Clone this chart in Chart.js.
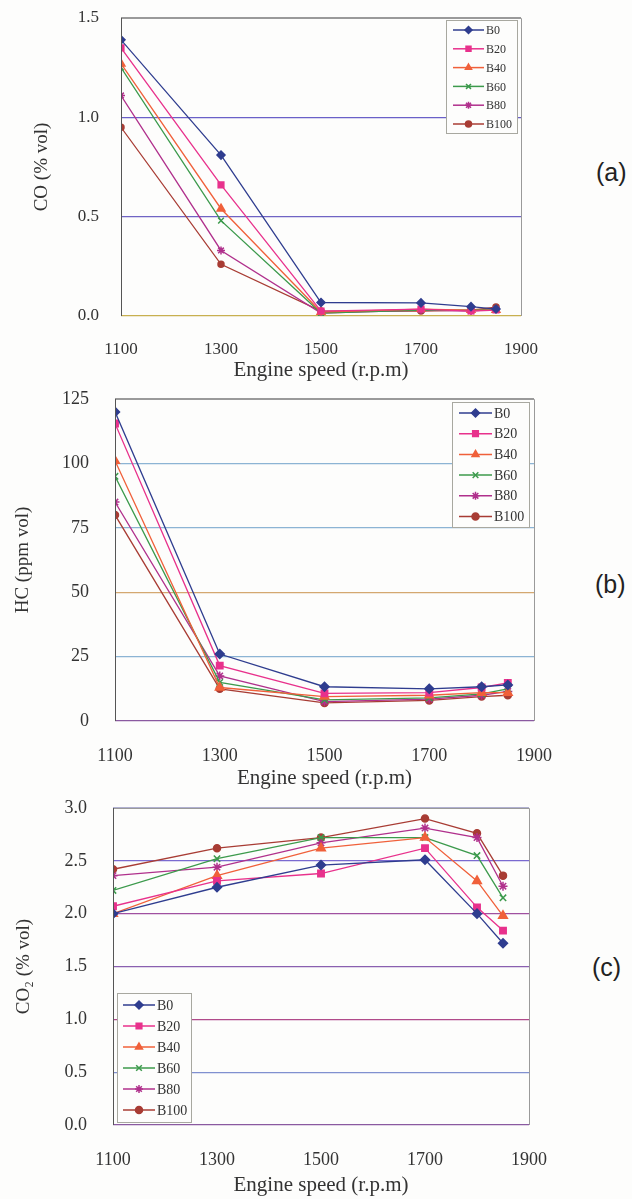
<!DOCTYPE html>
<html>
<head>
<meta charset="utf-8">
<script src="https://cdn.jsdelivr.net/npm/chart.js@4.4.1/dist/chart.umd.min.js"></script>
<style>
  body { margin: 0; background: #fdfdfc; width: 632px; height: 1199px; position: relative; overflow: hidden; }
  .box { position: absolute; left: 0; }
  .tag { position: absolute; font-family: "Liberation Sans", Arial, sans-serif; font-size: 25px; color: #222; }
</style>
</head>
<body>
<div class="box" style="top:0;width:560px;height:390px"><canvas id="chartCO"></canvas></div>
<div class="box" style="top:380px;width:580px;height:420px"><canvas id="chartHC"></canvas></div>
<div class="box" style="top:790px;width:575px;height:409px"><canvas id="chartCO2"></canvas></div>
<div class="tag" style="left:596px;top:158px">(a)</div>
<div class="tag" style="left:595px;top:570px">(b)</div>
<div class="tag" style="left:592px;top:953px">(c)</div>

<script>
// engine speeds (r.p.m)
var speeds = [1100, 1300, 1500, 1700, 1800, 1850];
var blends = ['B0', 'B20', 'B40', 'B60', 'B80', 'B100'];

// CO (% vol)
var coB0 = [1.39, 0.81, 0.068, 0.066, 0.047, 0.035];
var coB20 = [1.35, 0.66, 0.025, 0.035, 0.025, 0.03];
var coB40 = [1.27, 0.54, 0.02, 0.035, 0.03, 0.03];
var coB60 = [1.25, 0.48, 0.015, 0.03, 0.03, 0.035];
var coB80 = [1.11, 0.33, 0.015, 0.03, 0.025, 0.035];
var coB100 = [0.95, 0.26, 0.025, 0.025, 0.03, 0.045];

// HC (ppm vol)
var hcB0 = [120, 26, 13.3, 12.5, 13.3, 14];
var hcB20 = [115.5, 21.5, 10.7, 11, 13, 14.8];
var hcB40 = [101, 13, 9.5, 10, 11, 11];
var hcB60 = [95, 15, 8.2, 9, 10.5, 12.5];
var hcB80 = [85, 17.5, 7.5, 8.5, 10, 11.5];
var hcB100 = [80, 12.5, 7, 8, 9.5, 10];

// CO2 (% vol)
var co2B0 = [2.0, 2.25, 2.46, 2.51, 2.0, 1.72];
var co2B20 = [2.07, 2.31, 2.38, 2.62, 2.06, 1.84];
var co2B40 = [2.0, 2.36, 2.62, 2.72, 2.31, 1.98];
var co2B60 = [2.22, 2.52, 2.72, 2.72, 2.55, 2.15];
var co2B80 = [2.36, 2.44, 2.67, 2.81, 2.72, 2.26];
var co2B100 = [2.42, 2.62, 2.72, 2.9, 2.76, 2.36];

var colors = ['#2f3d8f', '#e8318c', '#f0603a', '#3c9a4c', '#b0308c', '#a83c34'];
var markers = ['rectRot', 'rect', 'triangle', 'crossRot', 'star', 'circle'];
var serif = '"Liberation Serif", "DejaVu Serif", serif';

function makeSets(series, r) {
  return series.map(function(vals, i) {
    return {
      label: blends[i],
      data: vals.map(function(v, j) { return { x: speeds[j], y: v }; }),
      borderColor: colors[i],
      backgroundColor: colors[i],
      borderWidth: 1.3,
      pointStyle: markers[i],
      pointRadius: markers[i] == 'circle' ? r - 1 : (markers[i] == 'triangle' ? r + 0.5 : r),
      pointBorderWidth: 1.5,
      tension: 0
    };
  });
}

// frame round the plot
var framePlugin = {
  id: 'frame',
  afterDraw: function(chart) {
    var a = chart.chartArea, ctx = chart.ctx;
    ctx.save();
    ctx.strokeStyle = '#9a9a9a';
    ctx.lineWidth = 1;
    ctx.beginPath();
    ctx.moveTo(a.left, a.top + 0.5);
    ctx.lineTo(a.right + 0.5, a.top + 0.5);
    ctx.lineTo(a.right + 0.5, a.bottom);
    ctx.stroke();
    ctx.strokeStyle = '#555';
    ctx.beginPath();
    ctx.moveTo(a.left + 0.5, a.top);
    ctx.lineTo(a.left + 0.5, a.bottom);
    ctx.stroke();
    ctx.restore();
  }
};

// boxed legend placed inside the plot
var boxLegend = {
  id: 'boxLegend',
  afterDraw: function(chart, args, o) {
    var ctx = chart.ctx;
    ctx.save();
    ctx.fillStyle = '#fdfdfc';
    ctx.fillRect(o.x, o.y, o.w, o.h);
    ctx.strokeStyle = '#a8a8a0';
    ctx.lineWidth = 1;
    ctx.strokeRect(o.x + 0.5, o.y + 0.5, o.w, o.h);
    chart.data.datasets.forEach(function(ds, i) {
      var cy = o.rowY + i * o.rowH;
      ctx.strokeStyle = ds.borderColor;
      ctx.lineWidth = 1.5;
      ctx.beginPath();
      ctx.moveTo(o.lineX, cy);
      ctx.lineTo(o.lineX + o.lineLen, cy);
      ctx.stroke();
      ctx.fillStyle = ds.backgroundColor;
      Chart.helpers.drawPoint(ctx, {
        pointStyle: ds.pointStyle, radius: ds.pointStyle == 'circle' ? o.r - 0.5 : o.r, rotation: 0, borderWidth: 1.5
      }, o.lineX + o.lineLen / 2, cy);
      ctx.fillStyle = '#333';
      ctx.font = o.size + 'px ' + serif;
      ctx.textBaseline = 'middle';
      ctx.textAlign = 'left';
      ctx.fillText(ds.label, o.lineX + o.lineLen + 2, cy + 1);
    });
    ctx.restore();
  }
};

function gridColor(map) {
  return function(c) {
    var v = c.tick ? c.tick.value : 0;
    var k = v.toFixed(1);
    return map[k] || '#8080c0';
  };
}

function buildChart(id, cfg) {
  return new Chart(document.getElementById(id), {
    type: 'line',
    data: { datasets: makeSets(cfg.series, cfg.r) },
    options: {
      responsive: true,
      maintainAspectRatio: false,
      animation: false,
      layout: { padding: { top: cfg.padTop, right: cfg.padRight, left: 0, bottom: 0 } },
      plugins: {
        legend: { display: false },
        tooltip: { enabled: false },
        boxLegend: cfg.legend
      },
      scales: {
        x: {
          type: 'linear',
          min: 1100, max: 1900,
          afterFit: function(s) { s.height = cfg.xAxisH; },
          afterBuildTicks: function(s) {
            s.ticks = [1100, 1300, 1500, 1700, 1900].map(function(v) { return { value: v }; });
          },
          ticks: {
            padding: cfg.xTickPad,
            color: '#333',
            maxRotation: 0,
            font: { family: serif, size: cfg.tickSize },
            callback: function(v) { return v; }
          },
          grid: { display: false },
          border: { display: false },
          title: {
            display: true,
            text: 'Engine speed (r.p.m)',
            color: '#333',
            font: { family: serif, size: 21 },
            padding: { top: 0, bottom: cfg.xTitlePad }
          }
        },
        y: {
          min: cfg.yMin, max: cfg.yMax,
          afterFit: function(s) { s.width = cfg.yAxisW; },
          ticks: {
            stepSize: cfg.step,
            padding: 0,
            color: '#333',
            font: { family: serif, size: cfg.tickSize },
            callback: function(v) { return cfg.decimals ? v.toFixed(1) : v; }
          },
          grid: {
            drawTicks: true,
            tickLength: cfg.yTickGap,
            tickColor: 'rgba(0,0,0,0)',
            color: gridColor(cfg.grid),
            lineWidth: 1.2
          },
          border: { display: false },
          title: {
            display: true,
            text: cfg.yTitle,
            color: '#333',
            font: { family: serif, size: 19 },
            padding: { top: cfg.yTitlePad, bottom: 0 }
          }
        }
      }
    },
    plugins: [framePlugin, boxLegend]
  });
}

buildChart('chartCO', {
  series: [coB0, coB20, coB40, coB60, coB80, coB100],
  r: 4, padTop: 18, padRight: 39, xAxisH: 74, yAxisW: 121,
  xTickPad: 15, xTitlePad: 7, yTickGap: 22, yTitlePad: 31,
  tickSize: 17, yMin: 0, yMax: 1.5, step: 0.5, decimals: true,
  yTitle: 'CO (% vol)',
  grid: { '0.0': '#c8b050', '0.5': '#7064c4', '1.0': '#6a60c8', '1.5': '#9a9a9a' },
  legend: { x: 446, y: 20, w: 71, h: 113, rowY: 30, rowH: 18.8, lineX: 453, lineLen: 31, r: 3.5, size: 12 }
});

buildChart('chartHC', {
  series: [hcB0, hcB20, hcB40, hcB60, hcB80, hcB100],
  r: 4.5, padTop: 19, padRight: 46, xAxisH: 79, yAxisW: 115,
  xTickPad: 16, xTitlePad: 9, yTickGap: 26, yTitlePad: 12,
  tickSize: 18, yMin: 0, yMax: 125, step: 25, decimals: false,
  yTitle: 'HC (ppm vol)',
  grid: { '0.0': '#8a5aa0', '25.0': '#8cb4d4', '50.0': '#d4a870', '75.0': '#8cb4d4', '100.0': '#8cb4d4', '125.0': '#9a9a9a' },
  legend: { x: 452, y: 22, w: 77, h: 125, rowY: 33, rowH: 20.7, lineX: 459, lineLen: 33, r: 4, size: 14 }
});

buildChart('chartCO2', {
  series: [co2B0, co2B20, co2B40, co2B60, co2B80, co2B100],
  r: 4.5, padTop: 18, padRight: 46, xAxisH: 74, yAxisW: 113,
  xTickPad: 16, xTitlePad: 1, yTickGap: 26, yTitlePad: 13,
  tickSize: 18, yMin: 0, yMax: 3, step: 0.5, decimals: true,
  yTitle: 'CO\u2082 (% vol)',
  grid: { '0.0': '#8a5aa0', '0.5': '#8090d0', '1.0': '#b04a8a', '1.5': '#8a60b0', '2.0': '#a050a0', '2.5': '#7a6ad0', '3.0': '#b0b0d0' },
  legend: { x: 117, y: 203, w: 74, h: 129, rowY: 215, rowH: 21, lineX: 123, lineLen: 32, r: 4, size: 14 }
});
</script>
</body>
</html>
